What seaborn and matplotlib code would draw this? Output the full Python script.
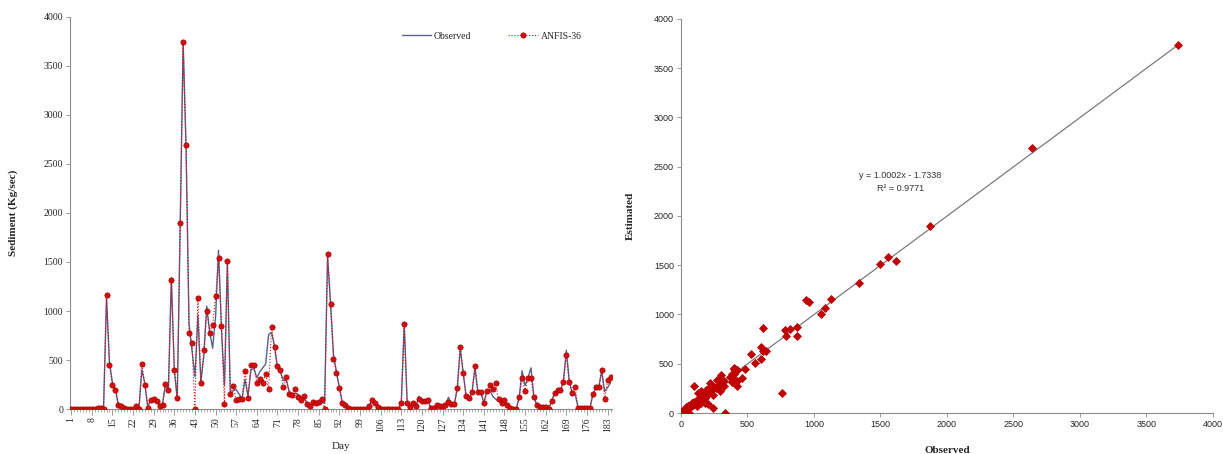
import numpy as np
import pandas as pd
import matplotlib
matplotlib.use("Agg")
import matplotlib.pyplot as plt
import seaborn as sns
from matplotlib.ticker import MultipleLocator

# daily sediment values (Kg/sec), days 1..184
observed = [0, 0, 0, 0, 0, 0, 0, 0, 5, 10, 10, 5,
            1130, 480, 270, 200, 50, 30, 15, 5, 0, 0, 25, 5,
            400, 260, 20, 100, 110, 90, 40, 50, 250, 200, 1340, 400,
            100, 1870, 3740, 2640, 870, 600, 330, 960, 280, 530, 1050, 790,
            620, 940, 1620, 820, 240, 1500, 150, 190, 200, 150, 110, 300,
            130, 400, 410, 320, 380, 420, 460, 760, 780, 640, 420, 380,
            290, 290, 180, 150, 160, 150, 120, 120, 60, 40, 50, 40,
            50, 80, 60, 1560, 1080, 560, 380, 220, 70, 40, 10, 0,
            0, 0, 0, 0, 0, 30, 80, 60, 20, 0, 0, 0,
            0, 0, 0, 0, 60, 870, 60, 20, 60, 30, 130, 80,
            80, 90, 10, 10, 40, 30, 30, 40, 120, 50, 50, 210,
            620, 370, 130, 110, 170, 420, 170, 170, 60, 180, 200, 130,
            100, 80, 60, 90, 40, 10, 0, 0, 120, 390, 240, 320,
            420, 120, 40, 20, 20, 20, 0, 80, 160, 190, 190, 280,
            600, 280, 160, 150, 10, 10, 10, 10, 10, 150, 220, 220,
            390, 180, 220, 270]

anfis = [0, 0, 0, 0, 0, 0, 0, 0, 5, 10, 10, 5,
         1160, 450, 250, 195, 45, 30, 15, 5, 0, 0, 30, 0,
         460, 250, 15, 90, 100, 80, 30, 45, 260, 190, 1320, 400,
         110, 1900, 3740, 2690, 780, 670, 0, 1130, 270, 600, 1000, 780,
         860, 1150, 1540, 850, 50, 1510, 150, 230, 90, 100, 100, 390,
         110, 450, 450, 270, 310, 270, 360, 200, 840, 630, 440, 400,
         220, 330, 150, 140, 200, 120, 90, 130, 50, 30, 70, 60,
         70, 100, 0, 1580, 1070, 510, 370, 210, 60, 40, 10, 0,
         0, 0, 0, 0, 0, 30, 90, 60, 20, 0, 0, 0,
         0, 0, 0, 0, 60, 870, 60, 20, 60, 30, 100, 80,
         80, 90, 10, 10, 40, 30, 30, 40, 70, 50, 50, 210,
         630, 370, 130, 110, 170, 440, 170, 170, 60, 180, 240, 200,
         270, 100, 60, 90, 40, 10, 0, 0, 120, 320, 180, 320,
         320, 120, 40, 20, 20, 20, 0, 80, 160, 190, 190, 280,
         550, 280, 160, 220, 10, 10, 10, 10, 10, 150, 220, 220,
         400, 100, 300, 330]

days = list(range(1, len(observed) + 1))
day_ticks = list(range(1, 184, 7))
value_ticks = list(range(0, 4001, 500))

# trendline reported for the scatter
slope = 1.0002
intercept = -1.7338
r_squared = 0.9771

sns.set_theme(style="white")
plt.rcParams['font.family'] = ['Liberation Serif', 'DejaVu Serif']

df = pd.DataFrame({'Day': days, 'Observed': observed, 'ANFIS-36': anfis})

fig = plt.figure(figsize=(12.23, 4.54), dpi=100)
ax1 = fig.add_axes([0.0572, 0.0991, 0.443, 0.8635])
ax2 = fig.add_axes([0.5568, 0.0903, 0.435, 0.868])

spine_col = '#8c8c8c'

# --- left: time series
sns.lineplot(data=df, x='Day', y='Observed', ax=ax1, color='#56628f',
             linewidth=1.0, label='Observed', zorder=2)
sns.lineplot(data=df, x='Day', y='ANFIS-36', ax=ax1, color='#d01010',
             linewidth=0.8, linestyle=':', marker='o', markersize=3.8,
             markeredgecolor='#b00000', markeredgewidth=0.5,
             label='ANFIS-36', zorder=3)

ax1.set_xlim(0.6, 184.4)
ax1.set_ylim(0, 4000)
ax1.set_xticks(day_ticks)
ax1.xaxis.set_minor_locator(MultipleLocator(1))
ax1.set_yticks(value_ticks)
ax1.tick_params(axis='x', which='major', labelrotation=90, labelsize=7,
                direction='out', length=4, width=0.6, color=spine_col, bottom=True, pad=2)
ax1.tick_params(axis='x', which='minor', direction='out', length=2.5,
                width=0.5, color=spine_col, bottom=True)
ax1.tick_params(axis='y', labelsize=7, direction='out', length=3,
                width=0.6, color=spine_col, left=True, pad=2)
ax1.set_xlabel('Day', fontsize=8, labelpad=7)
ax1.set_ylabel('Sediment (Kg/sec)', fontsize=8, fontweight='bold', labelpad=18)
for s in ['top', 'right']:
    ax1.spines[s].set_visible(False)
for s in ['left', 'bottom']:
    ax1.spines[s].set_color(spine_col)
    ax1.spines[s].set_linewidth(0.8)
ax1.legend(loc='upper right', bbox_to_anchor=(0.96, 0.985), ncol=2, frameon=False,
           fontsize=7, handlelength=3.0, columnspacing=3.8, handletextpad=0.3)

# --- right: scatter
sns.scatterplot(data=df, x='Observed', y='ANFIS-36', ax=ax2, marker='D', s=16,
                color='#c00000', edgecolor='#c00000', linewidth=0.6, zorder=3)
fit_x = np.array([min(observed), max(observed)])
ax2.plot(fit_x, slope * fit_x + intercept, color='#7a7a7a', linewidth=0.9, zorder=2)
ax2.text(1650, 2410, 'y = 1.0002x - 1.7338', ha='center', va='center', fontsize=6.5,
         family=['Liberation Sans', 'DejaVu Sans'], color='#333333')
ax2.text(1650, 2275, 'R\u00b2 = 0.9771', ha='center', va='center', fontsize=6.5,
         family=['Liberation Sans', 'DejaVu Sans'], color='#333333')

ax2.set_xlim(0, 4000)
ax2.set_ylim(0, 4000)
ax2.set_xticks(value_ticks)
ax2.set_yticks(value_ticks)
ax2.tick_params(axis='both', labelsize=6.5, direction='out', length=3,
                width=0.6, color=spine_col, left=True, bottom=True, pad=2)
for lab in ax2.get_xticklabels() + ax2.get_yticklabels():
    lab.set_family(['Liberation Sans', 'DejaVu Sans'])
ax2.set_xlabel('Observed', fontsize=8, fontweight='bold', labelpad=12)
ax2.set_ylabel('Estimated', fontsize=8, fontweight='bold', labelpad=14)
for s in ['top', 'right']:
    ax2.spines[s].set_visible(False)
for s in ['left', 'bottom']:
    ax2.spines[s].set_color(spine_col)
    ax2.spines[s].set_linewidth(0.8)

fig.savefig('out.png', dpi=100)
